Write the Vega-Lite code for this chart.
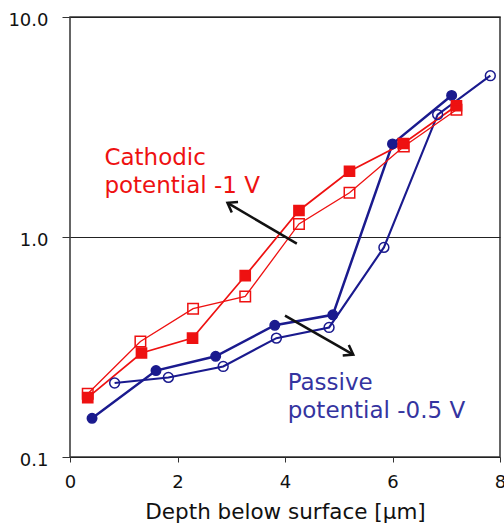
{
  "$schema": "https://vega.github.io/schema/vega-lite/v6.json",
  "autosize": "none",
  "width": 430,
  "height": 440,
  "padding": {"left": 70, "top": 17, "right": 4, "bottom": 70},
  "background": "white",
  "config": {
    "view": {"stroke": "#333333", "strokeWidth": 1.5},
    "font": "DejaVu Sans"
  },
  "datasets": {
    "pts": [
      {"series": "Passive filled", "x": 0.41, "y": 0.150},
      {"series": "Passive filled", "x": 1.60, "y": 0.247},
      {"series": "Passive filled", "x": 2.71, "y": 0.287},
      {"series": "Passive filled", "x": 3.81, "y": 0.397},
      {"series": "Passive filled", "x": 4.89, "y": 0.443},
      {"series": "Passive filled", "x": 6.00, "y": 2.65},
      {"series": "Passive filled", "x": 7.10, "y": 4.40},
      {"series": "Passive open", "x": 0.83, "y": 0.217},
      {"series": "Passive open", "x": 1.83, "y": 0.230},
      {"series": "Passive open", "x": 2.85, "y": 0.258},
      {"series": "Passive open", "x": 3.84, "y": 0.347},
      {"series": "Passive open", "x": 4.82, "y": 0.388},
      {"series": "Passive open", "x": 5.84, "y": 0.897},
      {"series": "Passive open", "x": 6.84, "y": 3.60},
      {"series": "Passive open", "x": 7.82, "y": 5.41},
      {"series": "Cathodic filled", "x": 0.33, "y": 0.186},
      {"series": "Cathodic filled", "x": 1.33, "y": 0.297},
      {"series": "Cathodic filled", "x": 2.28, "y": 0.347},
      {"series": "Cathodic filled", "x": 3.26, "y": 0.667},
      {"series": "Cathodic filled", "x": 4.26, "y": 1.32},
      {"series": "Cathodic filled", "x": 5.20, "y": 1.99},
      {"series": "Cathodic filled", "x": 6.20, "y": 2.66},
      {"series": "Cathodic filled", "x": 7.19, "y": 3.95},
      {"series": "Cathodic open", "x": 0.33, "y": 0.194},
      {"series": "Cathodic open", "x": 1.31, "y": 0.335},
      {"series": "Cathodic open", "x": 2.29, "y": 0.472},
      {"series": "Cathodic open", "x": 3.26, "y": 0.537},
      {"series": "Cathodic open", "x": 4.26, "y": 1.146},
      {"series": "Cathodic open", "x": 5.20, "y": 1.59},
      {"series": "Cathodic open", "x": 6.21, "y": 2.58},
      {"series": "Cathodic open", "x": 7.19, "y": 3.79}
    ],
    "arrows": [
      {"x": 4.22, "y": 0.933, "x2": 2.93, "y2": 1.43, "angle": 301},
      {"x": 4.00, "y": 0.439, "x2": 5.27, "y2": 0.292, "angle": 120}
    ],
    "labels": [
      {"text": "Cathodic", "x": 0.64, "y": 2.13, "grp": "c"},
      {"text": "potential -1 V", "x": 0.64, "y": 1.59, "grp": "c"},
      {"text": "Passive", "x": 4.05, "y": 0.202, "grp": "p"},
      {"text": "potential -0.5 V", "x": 4.05, "y": 0.151, "grp": "p"}
    ]
  },
  "layer": [
    {
      "data": {"name": "pts"},
      "mark": {"type": "line"},
      "encoding": {
        "x": {
          "field": "x", "type": "quantitative",
          "scale": {"domain": [0, 8], "nice": false, "zero": false},
          "axis": {
            "values": [0, 2, 4, 6, 8], "title": "Depth below surface [μm]",
            "grid": false, "domain": false, "tickColor": "#333", "tickSize": 5,
            "labelFontSize": 18, "labelColor": "#111", "labelPadding": 11,
            "titleFontSize": 21.5, "titleFontWeight": "normal", "titleColor": "#111",
            "titlePadding": 10, "labelFlush": false
          }
        },
        "y": {
          "field": "y", "type": "quantitative",
          "scale": {"type": "log", "domain": [0.1, 10], "nice": false},
          "axis": {
            "values": [0.1, 1, 10], "format": ".1f", "title": null,
            "grid": true, "gridColor": "#222", "gridOpacity": 1, "gridWidth": 1,
            "domain": false, "tickColor": "#333", "tickSize": 8,
            "labelFontSize": 18, "labelColor": "#111", "labelPadding": 14,
            "labelOffset": 3
          }
        },
        "color": {
          "field": "series", "type": "nominal", "legend": null,
          "scale": {
            "domain": ["Passive filled", "Passive open", "Cathodic filled", "Cathodic open"],
            "range": ["#1a1a8e", "#1a1a8e", "#ee1111", "#ee1111"]
          }
        },
        "strokeWidth": {
          "field": "series", "type": "nominal", "legend": null,
          "scale": {
            "domain": ["Passive filled", "Passive open", "Cathodic filled", "Cathodic open"],
            "range": [2.5, 1.3, 2.5, 1.3]
          }
        },
        "order": {"field": "x", "type": "quantitative"}
      }
    },
    {
      "data": {"name": "pts"},
      "mark": {"type": "point", "opacity": 1, "strokeWidth": 1.5},
      "encoding": {
        "x": {"field": "x", "type": "quantitative"},
        "y": {"field": "y", "type": "quantitative"},
        "shape": {
          "field": "series", "type": "nominal", "legend": null,
          "scale": {
            "domain": ["Passive filled", "Passive open", "Cathodic filled", "Cathodic open"],
            "range": ["circle", "circle", "square", "square"]
          }
        },
        "size": {
          "field": "series", "type": "nominal", "legend": null,
          "scale": {
            "domain": ["Passive filled", "Passive open", "Cathodic filled", "Cathodic open"],
            "range": [90, 110, 160, 140]
          }
        },
        "stroke": {
          "field": "series", "type": "nominal", "legend": null,
          "scale": {
            "domain": ["Passive filled", "Passive open", "Cathodic filled", "Cathodic open"],
            "range": ["#1a1a8e", "#1a1a8e", "#ee1111", "#ee1111"]
          }
        },
        "fill": {
          "field": "series", "type": "nominal", "legend": null,
          "scale": {
            "domain": ["Passive filled", "Passive open", "Cathodic filled", "Cathodic open"],
            "range": ["#1a1a8e", "transparent", "#ee1111", "transparent"]
          }
        }
      }
    },
    {
      "data": {"name": "arrows"},
      "mark": {"type": "rule", "color": "#111", "strokeWidth": 2.5},
      "encoding": {
        "x": {"field": "x", "type": "quantitative"},
        "y": {"field": "y", "type": "quantitative"},
        "x2": {"field": "x2"},
        "y2": {"field": "y2"}
      }
    },
    {
      "data": {"name": "arrows"},
      "mark": {"type": "point", "shape": "M -0.7 1 L 0 0 L 0.7 1", "size": 300, "filled": false, "stroke": "#111", "strokeWidth": 2.5, "opacity": 1},
      "encoding": {
        "x": {"field": "x2", "type": "quantitative"},
        "y": {"field": "y2", "type": "quantitative"},
        "angle": {"field": "angle", "type": "quantitative", "scale": null}
      }
    },
    {
      "data": {"name": "labels"},
      "mark": {"type": "text", "align": "left", "baseline": "alphabetic", "fontSize": 23},
      "encoding": {
        "x": {"field": "x", "type": "quantitative"},
        "y": {"field": "y", "type": "quantitative"},
        "text": {"field": "text"},
        "color": {
          "field": "grp", "type": "nominal", "legend": null,
          "scale": {"domain": ["c", "p"], "range": ["#ee1111", "#3434a0"]}
        }
      }
    }
  ],
  "resolve": {"scale": {"color": "independent"}}
}
